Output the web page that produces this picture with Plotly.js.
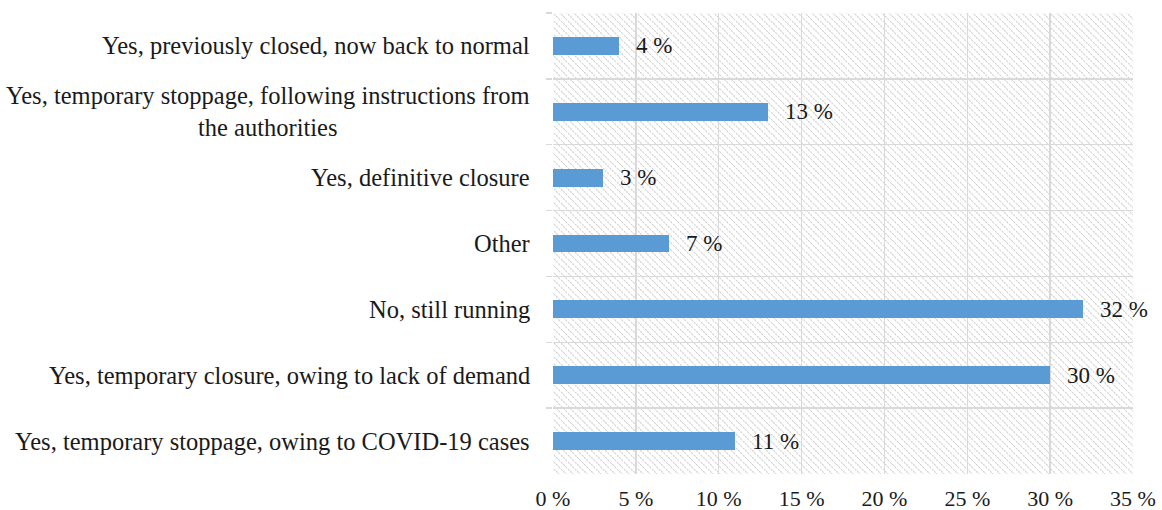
<!DOCTYPE html>
<html><head><meta charset="utf-8">
<script src="https://cdn.plot.ly/plotly-3.0.1.min.js"></script>
<style>body{margin:0;background:#fff}#chart{width:1162px;height:510px}</style>
</head><body><div id="chart"></div>
<script>
const categories = [
  "Yes, previously closed, now back to normal",
  "Yes, temporary stoppage, following instructions from<br>the authorities",
  "Yes, definitive closure",
  "Other",
  "No, still running",
  "Yes, temporary closure, owing to lack of demand",
  "Yes, temporary stoppage, owing to COVID-19 cases"
];
const values = [4, 13, 3, 7, 32, 30, 11];
const xTicks = [0, 5, 10, 15, 20, 25, 30, 35];

const FONT = "Liberation Serif, Times New Roman, serif";
const W = 580, H = 461;
const svg = `<svg xmlns="http://www.w3.org/2000/svg" width="${W}" height="${H}" viewBox="0 0 ${W} ${H}" preserveAspectRatio="none"><defs><pattern id="p" width="7" height="7" patternUnits="userSpaceOnUse"><path d="M-1,-1 L8,8 M-8,-1 L1,8 M6,-1 L15,8" stroke="#cfcfcf" stroke-width="1.1" stroke-dasharray="2,1"/></pattern></defs><rect width="100%" height="100%" fill="url(#p)"/></svg>`;
const imgSrc = "data:image/svg+xml;base64," + btoa(svg);

const trace = {
  type: "bar", orientation: "h",
  y: categories, x: values,
  width: 0.27,
  marker: {color: "#5b9bd5"},
  hoverinfo: "skip"
};

const annotations = [];
categories.forEach((c, i) => {
  annotations.push({
    xref: "paper", yref: "y", x: 0, y: c, xanchor: "right", yanchor: "middle",
    xshift: -21, text: c, showarrow: false, align: "center",
    font: {family: FONT, size: 24.5, color: "#1a1a1a"}
  });
  annotations.push({
    xref: "x", yref: "y", x: values[i], y: c, xanchor: "left", yanchor: "middle",
    xshift: 15, text: values[i] + " %", showarrow: false,
    font: {family: FONT, size: 23, color: "#1a1a1a"}
  });
});

const layout = {
  width: 1162, height: 510,
  margin: {l: 553, r: 29, t: 13, b: 36},
  paper_bgcolor: "#fff", plot_bgcolor: "#fff",
  showlegend: false,
  bargap: 0,
  xaxis: {
    range: [0, 35], tickvals: xTicks, ticktext: xTicks.map(v => v + " %"),
    showgrid: true, gridcolor: "#d9d9d9", gridwidth: 1.5,
    zeroline: false, showline: false, ticks: "", ticklabelstandoff: 9,
    tickfont: {family: FONT, size: 22, color: "#1a1a1a"},
    fixedrange: true
  },
  yaxis: {
    type: "category", autorange: "reversed",
    tickson: "boundaries", ticks: "outside", ticklen: 6, tickcolor: "#d9d9d9", tickwidth: 1.5,
    showgrid: true, gridcolor: "#d9d9d9", gridwidth: 1.5,
    showticklabels: false, zeroline: false, showline: false,
    fixedrange: true
  },
  images: [{
    source: imgSrc, xref: "paper", yref: "paper", x: 0, y: 1,
    sizex: 1, sizey: 1, sizing: "stretch", xanchor: "left", yanchor: "top", layer: "below"
  }],
  annotations: annotations
};

Plotly.newPlot("chart", [trace], layout, {displayModeBar: false, staticPlot: true});
</script></body></html>
